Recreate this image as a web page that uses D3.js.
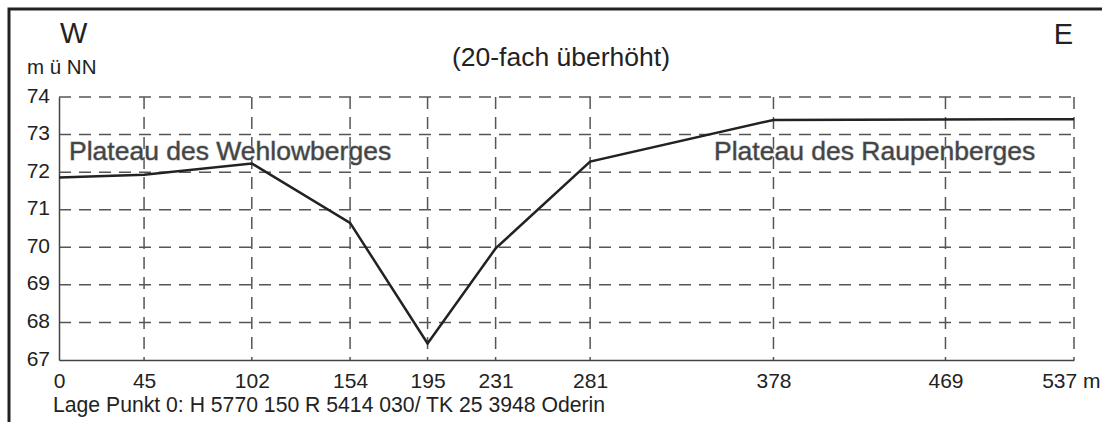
<!DOCTYPE html>
<html><head><meta charset="utf-8">
<script src="https://cdn.jsdelivr.net/npm/d3@7"></script>
<style>
html,body{margin:0;padding:0;background:#fff;}
svg{display:block;font-family:"Liberation Sans",Arial,sans-serif;}
</style></head>
<body>
<svg id="c" width="1102" height="422"></svg>
<script>
// distances (m) of profile points
const distances = [0, 45, 102, 154, 195, 231, 281, 378, 537];
// elevation (m ü NN) at each point
const elevations = [71.86, 71.93, 72.23, 70.65, 67.44, 69.97, 72.28, 73.39, 73.41];
// x tick values and labels
const xTickValues = [0, 45, 102, 154, 195, 231, 281, 378, 469, 537];
const xTickLabels = ["0", "45", "102", "154", "195", "231", "281", "378", "469", "537 m"];
// y ticks
const yTickValues = [67, 68, 69, 70, 71, 72, 73, 74];
const yTickLabels = ["67", "68", "69", "70", "71", "72", "73", "74"];
const plateauLabels = ["Plateau des Wehlowberges", "Plateau des Raupenberges"];

const svg = d3.select("#c");
const mLeft = 59, mRight = 1074, mTop = 97, mBottom = 360;
const x = d3.scaleLinear().domain([0, 537]).range([mLeft, mRight]);
const y = d3.scaleLinear().domain([67, 74]).range([mBottom, mTop]);

// outer frame (top and left edges visible)
svg.append("path").attr("d", "M9,422V9H1102").attr("fill", "none")
  .attr("stroke", "#222").attr("stroke-width", 3);

// dashed grid
const grid = svg.append("g").attr("stroke", "#555").attr("stroke-width", 1.5)
  .attr("stroke-dasharray", "12,8").attr("fill", "none");
grid.selectAll("line.h").data(yTickValues.filter(v => v > 67)).enter().append("line")
  .attr("class", "h").attr("x1", mLeft).attr("x2", mRight)
  .attr("y1", d => y(d)).attr("y2", d => y(d));
grid.selectAll("line.v").data(xTickValues.filter(v => v > 0)).enter().append("line")
  .attr("class", "v").attr("y1", mTop).attr("y2", mBottom)
  .attr("x1", d => x(d)).attr("x2", d => x(d));

// axes
const yAxis = d3.axisLeft(y).tickValues(yTickValues)
  .tickFormat((d, i) => yTickLabels[i]).tickSize(0).tickPadding(9);
const gy = svg.append("g").attr("transform", `translate(${mLeft},0)`).call(yAxis);
const xAxis = d3.axisBottom(x).tickValues(xTickValues)
  .tickFormat((d, i) => xTickLabels[i]).tickSize(0).tickPadding(13);
const gx = svg.append("g").attr("transform", `translate(0,${mBottom})`).call(xAxis);
[gx, gy].forEach(g => {
  g.select(".domain").attr("stroke", "#444").attr("stroke-width", 1.5);
  g.selectAll("text").attr("font-size", 21).attr("fill", "#222")
    .attr("font-family", "Liberation Sans, Arial, sans-serif");
});
gy.selectAll("text").attr("dy", "0.24em");
// last x label ("537 m") kept inside the picture, as in the reference
gx.selectAll(".tick").filter(d => d === 537).select("text")
  .attr("text-anchor", "end").attr("dx", 26);

// profile line
const pts = distances.map((d, i) => [d, elevations[i]]);
svg.append("path").datum(pts)
  .attr("d", d3.line().x(d => x(d[0])).y(d => y(d[1])))
  .attr("fill", "none").attr("stroke", "#222").attr("stroke-width", 2.5)
  .attr("stroke-linejoin", "miter");

// texts
const t = (txt, xx, yy, size, anchor) => svg.append("text").text(txt)
  .attr("x", xx).attr("y", yy).attr("font-size", size).attr("fill", "#222")
  .attr("text-anchor", anchor || "start");
t("W", 60, 43, 29);
t("E", 1073, 44, 29, "end");
t("m ü NN", 27, 74, 20.5);
t("(20-fach überhöht)", 561, 66, 26.5, "middle");
t("Lage Punkt 0: H 5770 150 R 5414 030/ TK 25 3948 Oderin", 53, 412, 21.2);

svg.selectAll("text.plateau").data(plateauLabels).enter().append("text")
  .attr("class", "plateau").text(d => d)
  .attr("x", (d, i) => i === 0 ? 69 : 714).attr("y", 160)
  .attr("font-size", 26.5).attr("fill", "#444")
  .attr("stroke", "#b0b0b0").attr("stroke-width", 1)
  .attr("paint-order", "stroke");
</script>
</body></html>
